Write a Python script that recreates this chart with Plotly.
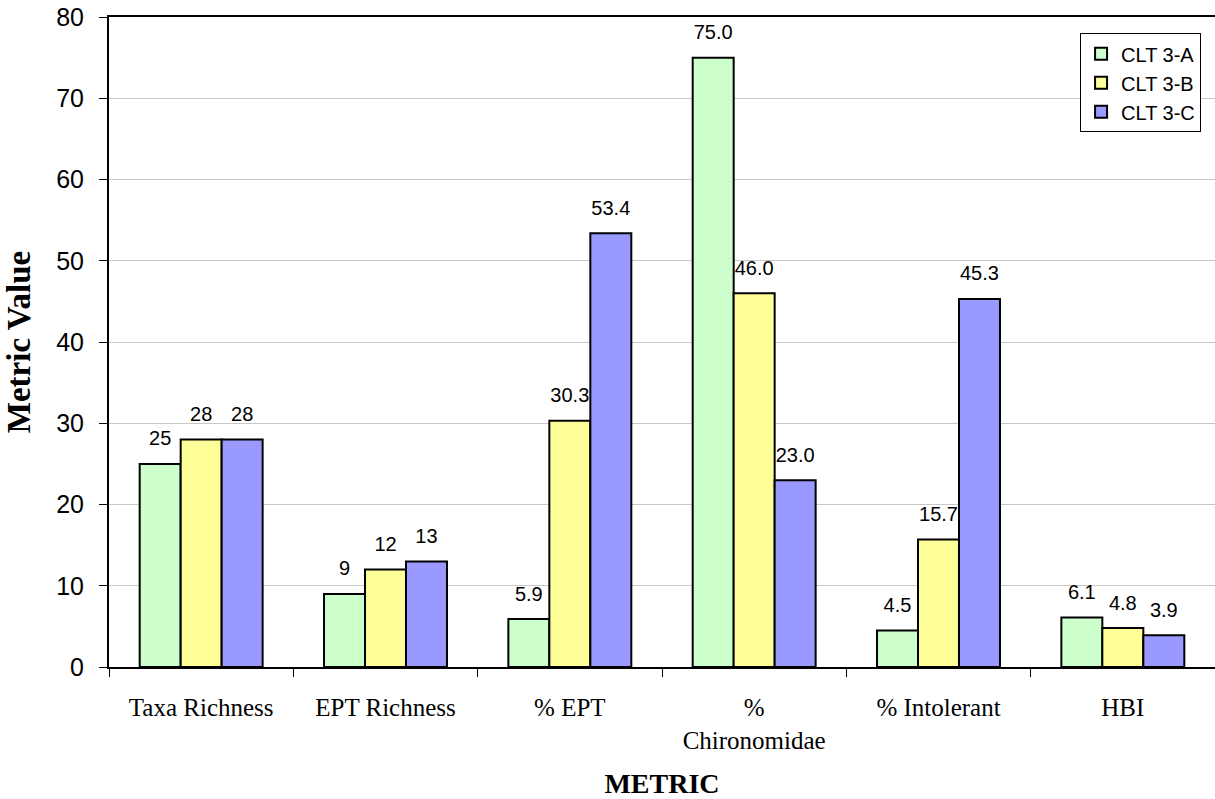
import plotly.graph_objects as go

categories = ["Taxa Richness", "EPT Richness", "% EPT", "%<br>Chironomidae", "% Intolerant", "HBI"]
series_names = ["CLT 3-A", "CLT 3-B", "CLT 3-C"]
clt_3a = [25, 9, 5.9, 75.0, 4.5, 6.1]
clt_3b = [28, 12, 30.3, 46.0, 15.7, 4.8]
clt_3c = [28, 13, 53.4, 23.0, 45.3, 3.9]
label_decimals = [0, 0, 1, 1, 1, 1]
y_ticks = [0, 10, 20, 30, 40, 50, 60, 70, 80]

colors = ["#CCFFCC", "#FFFF99", "#9999FF"]
GAP = 0.333

fig = go.Figure()
for name, vals, col in zip(series_names, [clt_3a, clt_3b, clt_3c], colors):
    fig.add_trace(go.Bar(
        name=name, x=categories, y=vals,
        marker=dict(color=col, line=dict(color="black", width=2)),
    ))
for name, vals in zip(series_names, [clt_3a, clt_3b, clt_3c]):
    texts = [f"{v:.{d}f}" for v, d in zip(vals, label_decimals)]
    fig.add_trace(go.Scatter(
        name=name + " labels", x=categories, y=vals, text=texts,
        mode="markers+text", textposition="top center", showlegend=False,
        marker=dict(size=20, opacity=0), cliponaxis=False, hoverinfo="skip",
        textfont=dict(family="Liberation Sans, Arial", size=20, color="black"),
    ))

fig.update_layout(
    width=1215, height=799,
    margin=dict(l=109, r=0, t=17, b=132),
    paper_bgcolor="white", plot_bgcolor="white",
    barmode="group", bargap=GAP, bargroupgap=0,
    scattermode="group", scattergap=GAP,
    showlegend=True,
    legend=dict(
        x=0.878, y=0.975, xanchor="left", yanchor="top",
        bordercolor="black", borderwidth=1, bgcolor="white",
        font=dict(family="Liberation Sans, Arial", size=20, color="black"),
        itemwidth=30,
    ),
    xaxis=dict(
        type="category", showline=True, linecolor="black", linewidth=2,
        mirror=True, ticks="outside", tickson="boundaries", ticklen=8,
        tickcolor="black", tickwidth=1, showgrid=False, ticklabelstandoff=17,
        tickfont=dict(family="Liberation Serif, Times New Roman", size=25, color="black"),
        title=dict(text="<b>METRIC</b>", font=dict(family="Liberation Serif, Times New Roman", size=28, color="black"), standoff=22),
    ),
    yaxis=dict(
        range=[0, 80], tickvals=y_ticks, showline=True, linecolor="black",
        linewidth=2, ticks="outside", ticklen=8, tickcolor="black", tickwidth=1,
        showgrid=True, gridcolor="#C8C8C8", gridwidth=1, zeroline=False,
        ticklabelstandoff=10,
        tickfont=dict(family="Liberation Sans, Arial", size=25, color="black"),
        title=dict(text="<b>Metric Value</b>", font=dict(family="Liberation Serif, Times New Roman", size=33, color="black"), standoff=16),
    ),
)

fig.write_html("out.html")
